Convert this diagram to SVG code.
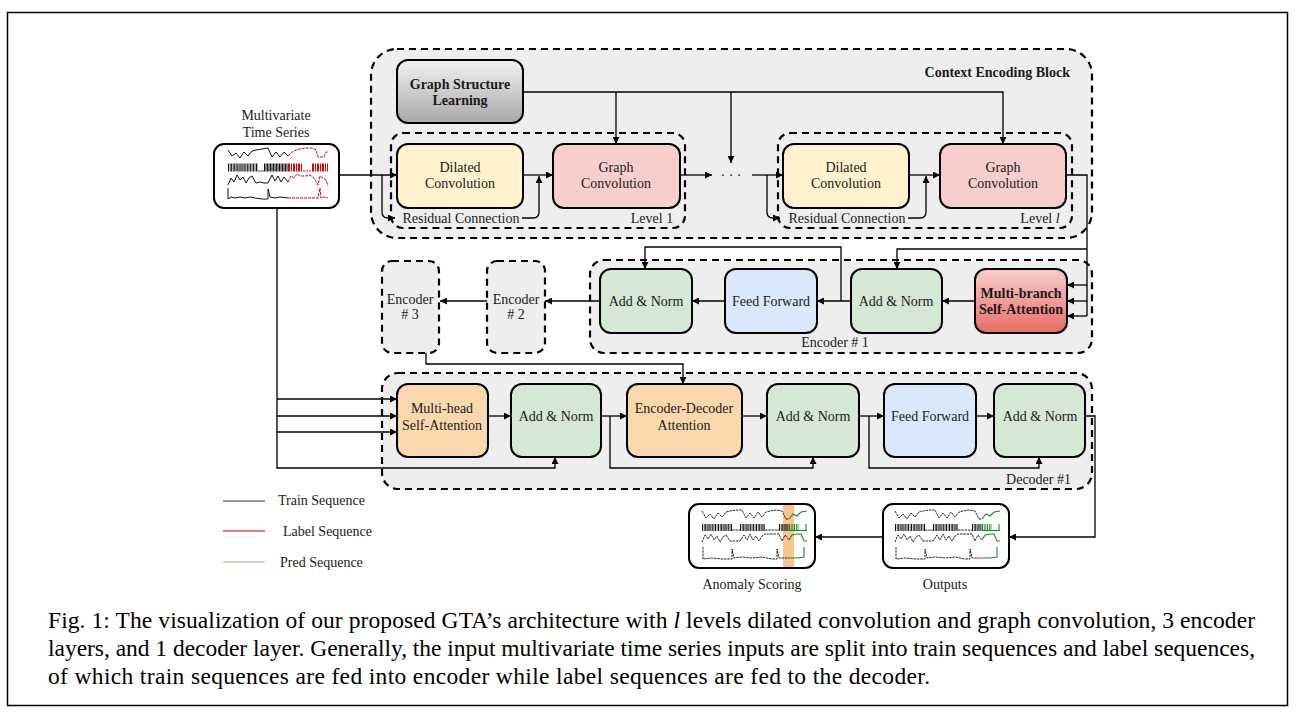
<svg xmlns="http://www.w3.org/2000/svg" xmlns:xlink="http://www.w3.org/1999/xlink" width="1303" height="721" viewBox="0 0 1303 721">
<style>
.box{stroke:#000;stroke-width:2}
.dash{fill:#eeeeee;stroke:#000;stroke-width:2.2;stroke-dasharray:7 5}
.dashn{fill:none;stroke:#000;stroke-width:2.2;stroke-dasharray:7 5}
.t{font-family:"Liberation Serif","Times New Roman",serif;font-size:14px;text-anchor:middle;fill:#1a1a1a}
.b{font-weight:bold}
.l{text-anchor:start}
.e{text-anchor:end}
.c{fill:none;stroke:#000;stroke-width:1.3}
.ca{fill:none;stroke:#000;stroke-width:1.3;marker-end:url(#a)}
.yel{fill:#fff2cc}
.pnk{fill:#f8cecc}
.grn{fill:#d5e8d4}
.blu{fill:#dae8fc}
.org{fill:#fad7ac}
.wht{fill:#fff}
.pk{fill:none;stroke:#111;stroke-width:1}
.pr{fill:none;stroke:#e00000;stroke-width:1;stroke-dasharray:3 1}
.pd{fill:none;stroke:#111;stroke-width:0.9;stroke-dasharray:2.5 0.8}
.pg{fill:none;stroke:#1a8a1a;stroke-width:1.1}
.cap{font-family:"Liberation Serif","Times New Roman",serif;font-size:23.5px;fill:#000}
</style>
<defs>
<marker id="a" viewBox="0 0 10 10" refX="10" refY="5" markerWidth="8" markerHeight="7" markerUnits="userSpaceOnUse" orient="auto"><path d="M0,0 L10,5 L0,10 z" fill="#000"/></marker>
<linearGradient id="gg" x1="0" y1="0" x2="0" y2="1"><stop offset="0" stop-color="#f2f2f2"/><stop offset="1" stop-color="#a8a8a8"/></linearGradient>
<linearGradient id="rg" x1="0" y1="0" x2="0" y2="1"><stop offset="0" stop-color="#f8cecc"/><stop offset="1" stop-color="#ea6b66"/></linearGradient>
<g id="outplot">
<polyline class="pd" points="895,511 899,518 903,514 907,519 911,513 915,517 919,512 923,511 929,510 935,510 939,518 943,513 947,518 951,512 955,517 959,512 963,511 969,510 975,511 979,519 982,519"/>
<polyline class="pg" points="982,519 986,514 990,516 994,512 1000,511"/>
<line x1="895" y1="527.5" x2="925" y2="527.5" stroke="#111" stroke-width="7" stroke-dasharray="1.2 0.8 0.6 0.6"/>
<line x1="925" y1="530" x2="933" y2="530" class="pd"/>
<line x1="933" y1="527.5" x2="958" y2="527.5" stroke="#111" stroke-width="7" stroke-dasharray="1.2 0.8 0.6 0.6"/>
<line x1="958" y1="530" x2="972" y2="530" class="pd"/>
<line x1="972" y1="527.5" x2="982" y2="527.5" stroke="#111" stroke-width="7" stroke-dasharray="1.2 0.8 0.6 0.6"/>
<line x1="982" y1="527.5" x2="992" y2="527.5" stroke="#1a8a1a" stroke-width="7" stroke-dasharray="1.2 1.2"/>
<line x1="982" y1="530.5" x2="1000" y2="530.5" class="pg"/>
<line x1="999" y1="524" x2="999" y2="531" class="pg"/>
<polyline class="pd" points="895,542 898,535 901,539 904,534 907,540 910,536 913,542 916,537 919,535 923,541 929,541 933,541 937,535 940,540 943,534 946,540 949,536 952,541 955,536 958,534 964,534 972,534 975,541 978,535 982,540"/>
<polyline class="pg" points="982,540 985,535 990,534 994,534 997,541 1000,541"/>
<polyline class="pd" points="896,547 896,559 905,558 915,559 925,559 925,549 927,558 935,557 945,558 955,557 965,559 970,559 970,549 972,558 982,558"/>
<polyline class="pg" points="982,558 990,558 997,557 997,547"/>
</g>
</defs>
<rect x="7.5" y="12.5" width="1280" height="693" fill="#fff" stroke="#000" stroke-width="1.5"/>

<g id="context-block">
<rect class="dash" x="371" y="49" width="721" height="189" rx="26"/>
<text class="t b e" x="1070" y="77">Context Encoding Block</text>
</g>
<g id="level-1">
<rect class="dashn" x="391" y="133" width="294" height="95" rx="12"/>
<text class="t" x="652" y="223">Level 1</text>
</g>
<g id="level-l">
<rect class="dashn" x="778" y="133" width="294" height="95" rx="12"/>
<text class="t" x="1040" y="223">Level <tspan font-style="italic">l</tspan></text>
</g>
<g id="encoder-1-group">
<rect class="dash" x="590" y="260" width="502" height="93" rx="14"/>
<text class="t" x="835" y="347">Encoder # 1</text>
</g>
<g id="decoder-1-group">
<rect class="dash" x="382" y="373" width="710" height="116" rx="16"/>
<text class="t e" x="1071" y="484">Decoder #1</text>
</g>

<g id="connectors">
<path class="ca" d="M339,175 H397"/>
<path class="ca" d="M382,175 V212 Q382,218 388,218 H395"/>
<path class="ca" d="M522,218 H533 Q539,218 539,212 V176"/>
<path class="ca" d="M523,175 H553"/>
<path class="ca" d="M523,92 H1003 V144"/>
<path class="ca" d="M616,92 V144"/>
<path class="ca" d="M731,92 V163"/>
<path class="ca" d="M680,175 H712"/>
<path class="ca" d="M752,175 H783"/>
<path class="ca" d="M767,175 V212 Q767,218 773,218 H780"/>
<path class="ca" d="M908,218 H920 Q926,218 926,212 V176"/>
<path class="ca" d="M909,175 H940"/>
<path class="c" d="M1066,175 H1087 V316"/>
<path class="ca" d="M1087,285 H1067"/>
<path class="ca" d="M1087,301 H1067"/>
<path class="ca" d="M1087,316 H1067"/>
<path class="ca" d="M1087,249 H897 V269"/>
<path class="ca" d="M975,301 H942"/>
<path class="ca" d="M851,301 H817"/>
<path class="ca" d="M841,301 V247 H645 V269"/>
<path class="ca" d="M725,301 H692"/>
<path class="ca" d="M600,301 H545"/>
<path class="ca" d="M487,301 H440"/>
<path class="ca" d="M426,353 V364 H683 V384"/>
<path class="ca" d="M277,208 V468 H555 V457"/>
<path class="ca" d="M277,399 H397"/>
<path class="ca" d="M277,416 H397"/>
<path class="ca" d="M277,432 H397"/>
<path class="ca" d="M488,416 H511"/>
<path class="ca" d="M601,416 H627"/>
<path class="ca" d="M610,416 V468 H813 V457"/>
<path class="ca" d="M742,416 H767"/>
<path class="ca" d="M859,416 H884"/>
<path class="ca" d="M869,416 V468 H1039 V457"/>
<path class="ca" d="M976,416 H994"/>
<path class="ca" d="M1085,416 H1095 V537 H1009"/>
<path class="ca" d="M883,537 H815"/>
</g>

<g id="graph-structure-learning">
<rect class="box" x="397" y="60" width="126" height="63" rx="11" fill="url(#gg)"/>
<text class="t b" x="460" y="89">Graph Structure</text>
<text class="t b" x="460" y="105">Learning</text>
</g>
<g id="dilated-conv-1">
<rect class="box yel" x="397" y="144" width="126" height="64" rx="11"/>
<text class="t" x="460" y="172">Dilated</text>
<text class="t" x="460" y="188">Convolution</text>
</g>
<g id="graph-conv-1">
<rect class="box pnk" x="553" y="144" width="127" height="64" rx="11"/>
<text class="t" x="616" y="172">Graph</text>
<text class="t" x="616" y="188">Convolution</text>
</g>
<g id="residual-label-1">
<text class="t" x="461" y="223">Residual Connection</text>
</g>
<g id="dots">
<text class="t" x="731" y="180">· · ·</text>
</g>
<g id="dilated-conv-l">
<rect class="box yel" x="783" y="144" width="126" height="64" rx="11"/>
<text class="t" x="846" y="172">Dilated</text>
<text class="t" x="846" y="188">Convolution</text>
</g>
<g id="graph-conv-l">
<rect class="box pnk" x="940" y="144" width="126" height="64" rx="11"/>
<text class="t" x="1003" y="172">Graph</text>
<text class="t" x="1003" y="188">Convolution</text>
</g>
<g id="residual-label-l">
<text class="t" x="847" y="223">Residual Connection</text>
</g>

<g id="multivariate-time-series">
<text class="t" x="276" y="120">Multivariate</text>
<text class="t" x="276" y="137">Time Series</text>
<rect class="box wht" x="214" y="144" width="125" height="64" rx="10"/>
<polyline class="pk" points="228,150 232,156 236,153 240,158 244,152 248,156 252,151 256,150 262,149 268,148 272,157 276,152 280,157 284,152 288,156"/>
<polyline class="pr" points="288,156 292,152 296,150 300,149 306,148 312,148 316,150 318,157 324,157 326,152 328,152"/>
<line x1="228" y1="167.5" x2="258" y2="167.5" stroke="#111" stroke-width="8" stroke-dasharray="1.2 0.7 0.6 0.6"/>
<line x1="258" y1="171" x2="264" y2="171" stroke="#555" stroke-width="1"/>
<line x1="264" y1="167.5" x2="288" y2="167.5" stroke="#111" stroke-width="8" stroke-dasharray="1 0.5"/>
<line x1="288" y1="167.5" x2="303" y2="167.5" stroke="#e00000" stroke-width="8" stroke-dasharray="2 1 1 1"/>
<line x1="303" y1="171" x2="312" y2="171" stroke="#e00000" stroke-width="1" stroke-dasharray="2 1"/>
<line x1="312" y1="167.5" x2="328" y2="167.5" stroke="#e00000" stroke-width="8" stroke-dasharray="2 1 1 1"/>
<polyline class="pk" points="228,185 231,178 234,182 237,175 240,180 243,177 246,183 249,178 252,176 256,183 260,182 264,183 268,183 272,175 275,181 278,176 281,182 284,177 288,182"/>
<polyline class="pr" points="288,182 291,176 294,178 297,174 300,176 306,176 310,175 314,178 318,185 320,176 323,178 326,180 328,186"/>
<polyline class="pk" points="228,188 228,199 231,197 235,198 240,197 245,198 250,197 255,198 262,199 268,199 268,189 270,197 275,198 280,197 288,198"/>
<polyline class="pr" points="288,198 300,198 312,198 318,198 320,188 321,198 324,197 328,198"/>
</g>

<g id="encoder-3">
<rect class="dash" x="382" y="261" width="57" height="92" rx="10"/>
<text class="t" x="410" y="304">Encoder</text>
<text class="t" x="410" y="319"># 3</text>
</g>
<g id="encoder-2">
<rect class="dash" x="487" y="261" width="58" height="92" rx="10"/>
<text class="t" x="516" y="304">Encoder</text>
<text class="t" x="516" y="319"># 2</text>
</g>
<g id="enc-add-norm-2">
<rect class="box grn" x="600" y="269" width="92" height="64" rx="11"/>
<text class="t" x="646" y="306">Add &amp; Norm</text>
</g>
<g id="enc-feed-forward">
<rect class="box blu" x="725" y="269" width="92" height="64" rx="11"/>
<text class="t" x="771" y="306">Feed Forward</text>
</g>
<g id="enc-add-norm-1">
<rect class="box grn" x="851" y="269" width="91" height="64" rx="11"/>
<text class="t" x="896" y="306">Add &amp; Norm</text>
</g>
<g id="multi-branch-self-attention">
<rect class="box" x="975" y="269" width="92" height="64" rx="11" fill="url(#rg)"/>
<text class="t b" x="1021" y="298">Multi-branch</text>
<text class="t b" x="1021" y="314">Self-Attention</text>
</g>

<g id="multi-head-self-attention">
<rect class="box org" x="397" y="384" width="91" height="73" rx="11"/>
<text class="t" x="442" y="413">Multi-head</text>
<text class="t" x="442" y="430">Self-Attention</text>
</g>
<g id="dec-add-norm-1">
<rect class="box grn" x="511" y="384" width="90" height="73" rx="11"/>
<text class="t" x="556" y="421">Add &amp; Norm</text>
</g>
<g id="encoder-decoder-attention">
<rect class="box org" x="627" y="384" width="115" height="73" rx="11"/>
<text class="t" x="684" y="413">Encoder-Decoder</text>
<text class="t" x="684" y="430">Attention</text>
</g>
<g id="dec-add-norm-2">
<rect class="box grn" x="767" y="384" width="92" height="73" rx="11"/>
<text class="t" x="813" y="421">Add &amp; Norm</text>
</g>
<g id="dec-feed-forward">
<rect class="box blu" x="884" y="384" width="92" height="73" rx="11"/>
<text class="t" x="930" y="421">Feed Forward</text>
</g>
<g id="dec-add-norm-3">
<rect class="box grn" x="994" y="384" width="91" height="73" rx="11"/>
<text class="t" x="1040" y="421">Add &amp; Norm</text>
</g>

<g id="outputs">
<rect class="box wht" x="883" y="504" width="126" height="64" rx="10"/>
<use xlink:href="#outplot" href="#outplot"/>
<text class="t" x="945" y="589">Outputs</text>
</g>
<g id="anomaly-scoring">
<rect class="box wht" x="689" y="504" width="126" height="64" rx="10"/>
<rect x="783" y="505" width="11" height="62" fill="#f6b26b" opacity="0.75"/>
<use xlink:href="#outplot" href="#outplot" transform="translate(-193,0)"/>
<text class="t" x="752" y="589">Anomaly Scoring</text>
</g>

<g id="legend">
<line x1="223" y1="501" x2="265" y2="501" stroke="#333" stroke-width="1.2"/>
<line x1="223" y1="531" x2="265" y2="531" stroke="#c00000" stroke-width="1.2"/>
<line x1="223" y1="562" x2="265" y2="562" stroke="#7ec46a" stroke-width="1.2"/>
<text class="t l" x="278" y="505" font-size="13">Train Sequence</text>
<text class="t l" x="283" y="536" font-size="13">Label Sequence</text>
<text class="t l" x="280" y="567" font-size="13">Pred Sequence</text>
</g>

<g id="caption">
<text class="cap" x="48" y="628" textLength="1207" lengthAdjust="spacing">Fig. 1: The visualization of our proposed GTA’s architecture with <tspan font-style="italic">l</tspan> levels dilated convolution and graph convolution, 3 encoder</text>
<text class="cap" x="48" y="656" textLength="1207" lengthAdjust="spacing">layers, and 1 decoder layer. Generally, the input multivariate time series inputs are split into train sequences and label sequences,</text>
<text class="cap" x="48" y="684" textLength="882" lengthAdjust="spacing">of which train sequences are fed into encoder while label sequences are fed to the decoder.</text>
</g>
</svg>
